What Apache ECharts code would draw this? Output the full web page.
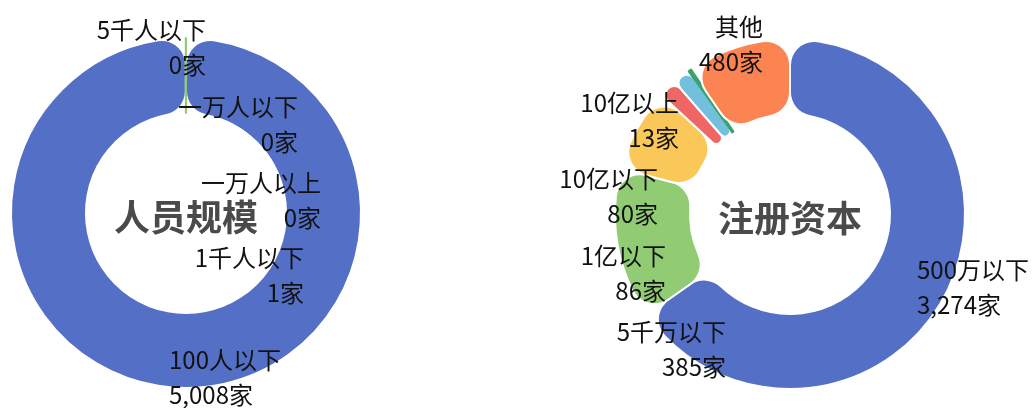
<!DOCTYPE html>
<html>
<head>
<meta charset="utf-8">
<script src="https://cdn.jsdelivr.net/npm/echarts@6/dist/echarts.min.js"></script>
<style>
  html, body { margin: 0; padding: 0; background: #fff; }
  #main { width: 1033px; height: 408px; }
</style>
</head>
<body>
<div id="main"></div>
<script>
// 人员规模
const staffNames = ['100人以下', '1千人以下', '一万人以上', '一万人以下', '5千人以下'];
const staffCounts = [5008, 1, 0, 0, 0];

// 注册资本
const capitalNames = ['500万以下', '1千万以下', '5千万以下', '1亿以下', '10亿以下', '10亿以上', '其他'];
const capitalCounts = [3274, 700, 385, 86, 80, 13, 480];
const capitalLabelShown = [true, false, true, true, true, true, true];

const ringTitles = ['人员规模', '注册资本'];

// layout
const palette = ['#5470c6', '#91cc75', '#fac858', '#ee6666', '#73c0de', '#3ba272', '#fc8452', '#9a60b4', '#ea7ccc'];
const centers = [[186, 213], [790, 214]];
const FONT = '"Noto Sans CJK SC", "Noto Sans", sans-serif';

// label anchor offsets from the ring centre: [dx, dy, align]
const staffAnchors = [
  [-17, 164.5, 'left'],
  [118, 62.5, 'right'],
  [135, -12.5, 'right'],
  [112, -88.5, 'right'],
  [20, -165.5, 'right']
];
const capitalAnchors = [
  [127, 73.5, 'left'],
  [0, 0, 'right'],
  [-64, 135.5, 'right'],
  [-124, 59.5, 'right'],
  [-132, -17.5, 'right'],
  [-111, -94, 'right'],
  [-27, -169.5, 'right']
];

function ringSeries(names, counts, center, anchors, shown) {
  const total = counts.reduce((s, v) => s + v, 0);
  return {
    type: 'pie',
    center: center,
    radius: [100, 175],
    startAngle: 90,
    clockwise: true,
    avoidLabelOverlap: false,
    label: {
      show: true,
      position: 'outside',
      formatter: p => p.name + '\n' + echarts.format.addCommas(p.value) + '家',
      fontSize: 24,
      lineHeight: 35,
      color: '#111',
      fontFamily: FONT
    },
    labelLine: { show: false },
    labelLayout: p => {
      const a = anchors[p.dataIndex];
      return { x: center[0] + a[0], y: center[1] + a[1], align: a[2], verticalAlign: 'middle' };
    },
    emphasis: { disabled: true },
    data: names.map((n, i) => {
      const color = palette[i % palette.length];
      const item = { name: n, value: counts[i] };
      if (shown && !shown[i]) item.label = { show: false };
      if (counts[i] === 0) {
        item.itemStyle = { color: color, borderWidth: 0 };
      } else if (counts[i] / total * 360 < 1.5) {
        // very thin slice: drawn as a hairline in its own colour
        item.itemStyle = { color: color, borderWidth: 2, borderColor: color, borderRadius: 0 };
      } else {
        item.itemStyle = { color: color, borderWidth: 2, borderColor: '#fff', borderRadius: 24 };
      }
      return item;
    })
  };
}

const chart = echarts.init(document.getElementById('main'), null, { renderer: 'canvas' });
chart.setOption({
  animation: false,
  color: palette,
  graphic: ringTitles.map((t, i) => ({
    type: 'text',
    x: centers[i][0],
    y: centers[i][1] + 4,
    style: {
      text: t,
      fontSize: 36,
      fontWeight: 'bold',
      fontFamily: FONT,
      fill: '#4a4a4a',
      align: 'center',
      verticalAlign: 'middle'
    }
  })),
  series: [
    ringSeries(staffNames, staffCounts, centers[0], staffAnchors, null),
    ringSeries(capitalNames, capitalCounts, centers[1], capitalAnchors, capitalLabelShown)
  ]
});
</script>
</body>
</html>
